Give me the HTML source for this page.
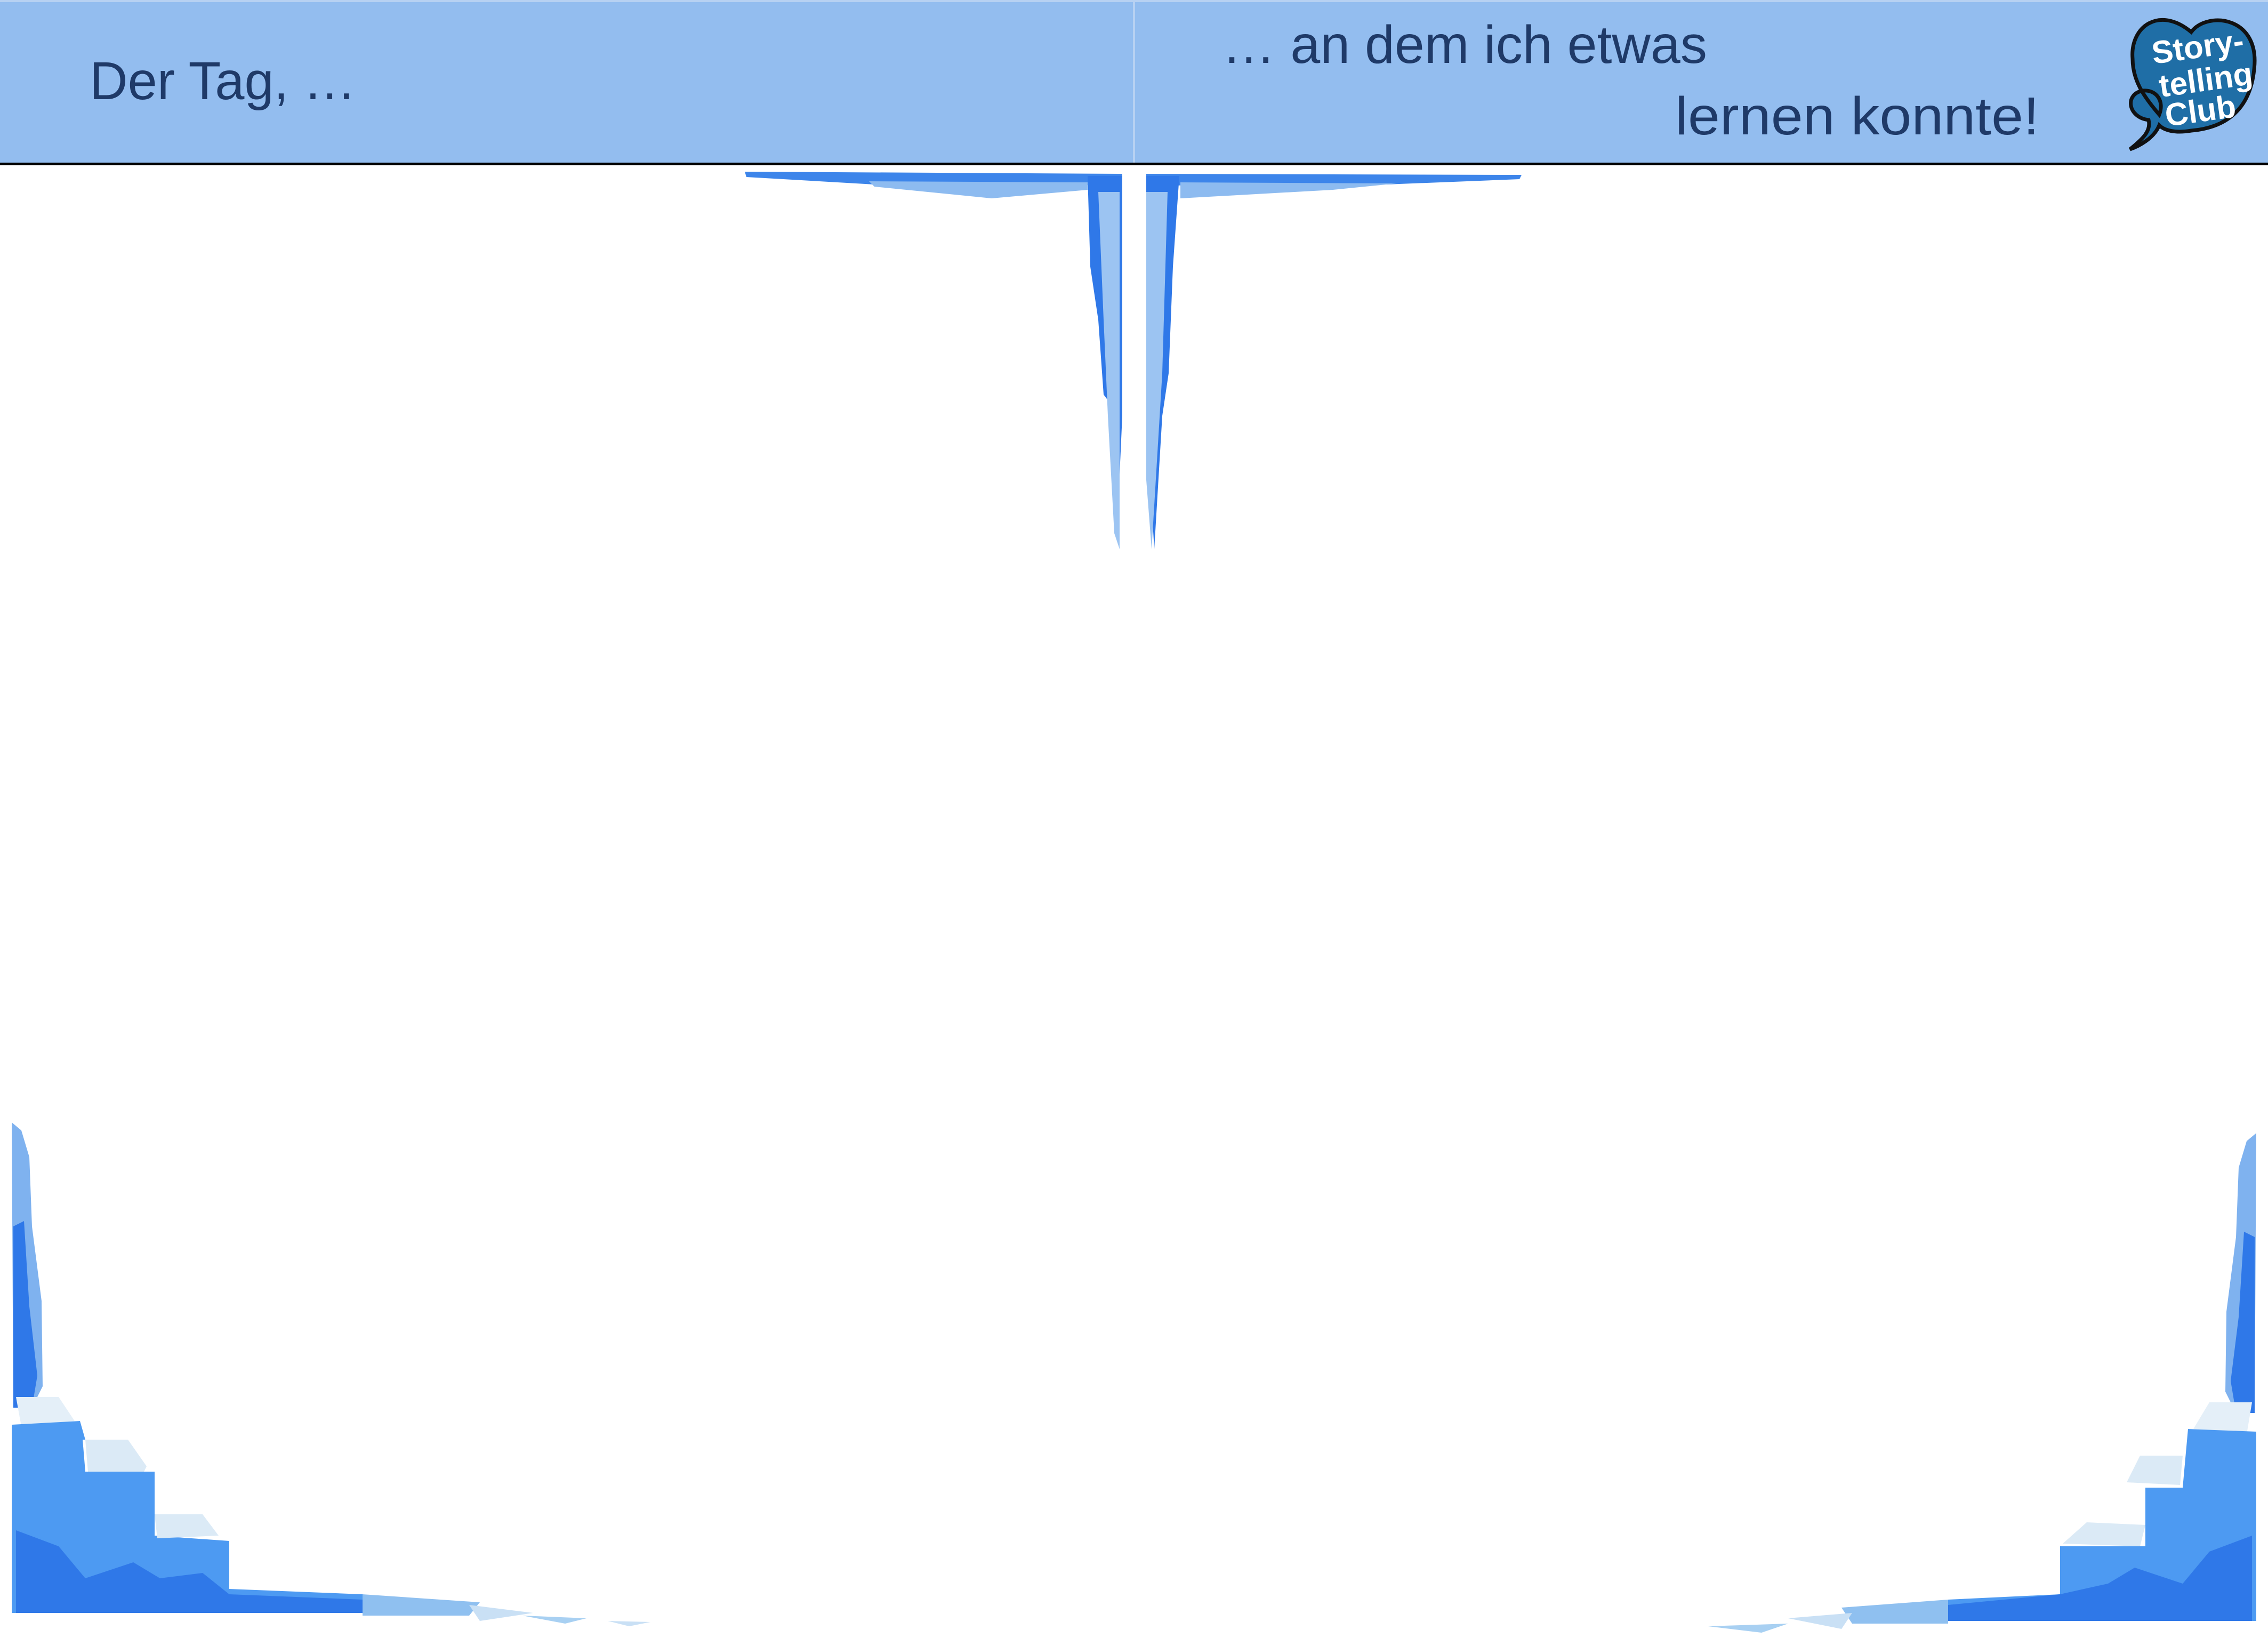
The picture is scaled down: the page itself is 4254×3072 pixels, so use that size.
<!DOCTYPE html>
<html><head><meta charset="utf-8"><style>
html,body{margin:0;padding:0;background:#fff;}
body{width:4254px;height:3072px;overflow:hidden;position:relative;}
svg{position:absolute;left:0;top:0;}
</style></head><body>
<svg width="4254" height="3072" viewBox="0 0 4254 3072">
<g>
<rect x="0" y="0" width="4254" height="307" fill="#93bdef"/>
<rect x="0" y="0" width="4254" height="4" fill="#b7d1f2"/>
<rect x="2125" y="0" width="4" height="305" fill="#b7d1f2"/>
<rect x="0" y="305" width="4254" height="5" fill="#000"/>
</g>
<text x="168" y="186" font-family="Liberation Sans, sans-serif" font-size="100" fill="#1f3a68" textLength="500" lengthAdjust="spacingAndGlyphs">Der Tag, …</text>
<text x="2292" y="118" font-family="Liberation Sans, sans-serif" font-size="100" fill="#1f3a68" textLength="910" lengthAdjust="spacingAndGlyphs">… an dem ich etwas</text>
<text x="3142" y="252" font-family="Liberation Sans, sans-serif" font-size="100" fill="#1f3a68" textLength="683" lengthAdjust="spacingAndGlyphs">lernen konnte!</text>
<g>
<path d="M4110,60 C4140,20 4240,30 4228,130 C4220,210 4170,240 4110,245 C4080,250 4060,245 4050,235 C4040,260 4010,275 3995,280 C4020,260 4035,245 4030,225 C3990,220 3985,175 4020,170 C4045,168 4060,190 4050,215 C4020,180 4000,150 4000,110 C3995,50 4050,10 4110,60 Z" fill="#1f6ea6" stroke="#111" stroke-width="7"/>
<text x="4125" y="108" text-anchor="middle" font-family="Liberation Sans, sans-serif" font-weight="bold" font-size="60" fill="#fff" transform="rotate(-8 4125 108)">Story-</text>
<text x="4140" y="170" text-anchor="middle" font-family="Liberation Sans, sans-serif" font-weight="bold" font-size="60" fill="#fff" transform="rotate(-8 4140 170)">telling</text>
<text x="4130" y="228" text-anchor="middle" font-family="Liberation Sans, sans-serif" font-weight="bold" font-size="60" fill="#fff" transform="rotate(-8 4130 228)">Club</text>
</g>
<g>
<path d="M1397,322 L2105,326 L2105,346 L1860,350 L1640,346 L1400,332 Z" fill="#3d85ea"/>
<path d="M1630,340 L2040,342 L2040,356 L1860,372 L1640,350 Z" fill="#8dbbf0"/>
<path d="M2150,326 L2854,328 L2850,336 L2600,346 L2150,348 Z" fill="#3d85ea"/>
<path d="M2214,342 L2620,344 L2500,356 L2214,372 Z" fill="#8dbbf0"/>
<path d="M2040,330 L2105,330 L2105,780 L2095,1000 L2085,760 L2070,740 L2060,600 L2045,500 Z" fill="#2f78e8"/>
<path d="M2060,360 L2100,360 L2100,1030 L2090,1000 L2078,780 L2070,600 Z" fill="#9cc4f2"/>
<path d="M2150,330 L2212,330 L2200,500 L2192,700 L2180,780 L2165,1030 L2150,780 Z" fill="#2f78e8"/>
<path d="M2150,360 L2190,360 L2180,700 L2160,1030 L2150,900 Z" fill="#9cc4f2"/>
</g>
<g>
<path d="M22,2105 L40,2120 L55,2170 L60,2300 L78,2440 L80,2600 L60,2640 L25,2640 Z" fill="#7fb2ef"/>
<path d="M25,2300 L45,2290 L55,2450 L70,2580 L60,2640 L25,2640 Z" fill="#2f78e8"/>
<path d="M30,2620 L110,2620 L140,2665 L40,2675 Z" fill="#e4eff8"/>
<path d="M22,2672 L150,2665 L160,2700 L155,2700 L160,2760 L290,2760 L290,2880 L430,2890 L430,2980 L680,2990 L680,3025 L22,3025 Z" fill="#4d9af2"/>
<path d="M160,2700 L240,2700 L275,2750 L270,2760 L165,2760 Z" fill="#dbeaf6"/>
<path d="M290,2840 L380,2840 L410,2880 L295,2885 Z" fill="#dbeaf6"/>
<path d="M30,2870 L110,2900 L160,2960 L250,2930 L300,2960 L380,2950 L430,2990 L680,3000 L680,3025 L30,3025 Z" fill="#2f78e8"/>
<path d="M680,2990 L900,3005 L880,3030 L680,3030 Z" fill="#8fc0f0"/>
<path d="M880,3010 L1000,3025 L900,3040 Z" fill="#c9e0f5"/>
<path d="M980,3030 L1100,3035 L1060,3045 Z" fill="#a8d0f2"/>
<path d="M1140,3040 L1220,3042 L1180,3050 Z" fill="#c9e0f5"/>
</g>
<g transform="translate(4254,0) scale(-1,1)">
<path d="M22,2125 L40,2140 L55,2190 L60,2320 L78,2460 L80,2610 L60,2650 L25,2650 Z" fill="#7fb2ef"/>
<path d="M25,2320 L45,2310 L55,2470 L70,2590 L60,2650 L25,2650 Z" fill="#2f78e8"/>
<path d="M30,2630 L110,2630 L140,2680 L40,2690 Z" fill="#e4eff8"/>
<path d="M22,2685 L150,2680 L160,2790 L230,2790 L230,2900 L390,2900 L390,2990 L600,3000 L600,3040 L22,3040 Z" fill="#4d9af2"/>
<path d="M160,2730 L240,2730 L265,2780 L165,2785 Z" fill="#dbeaf6"/>
<path d="M230,2860 L340,2855 L385,2895 L240,2900 Z" fill="#dbeaf6"/>
<path d="M30,2880 L110,2910 L160,2970 L250,2940 L300,2970 L390,2990 L600,3010 L600,3040 L30,3040 Z" fill="#2f78e8"/>
<path d="M600,3000 L800,3015 L780,3045 L600,3045 Z" fill="#8fc0f0"/>
<path d="M780,3025 L900,3035 L800,3055 Z" fill="#c9e0f5"/>
<path d="M900,3045 L1050,3050 L950,3062 Z" fill="#a8d0f2"/>
</g>
</svg>
</body></html>
